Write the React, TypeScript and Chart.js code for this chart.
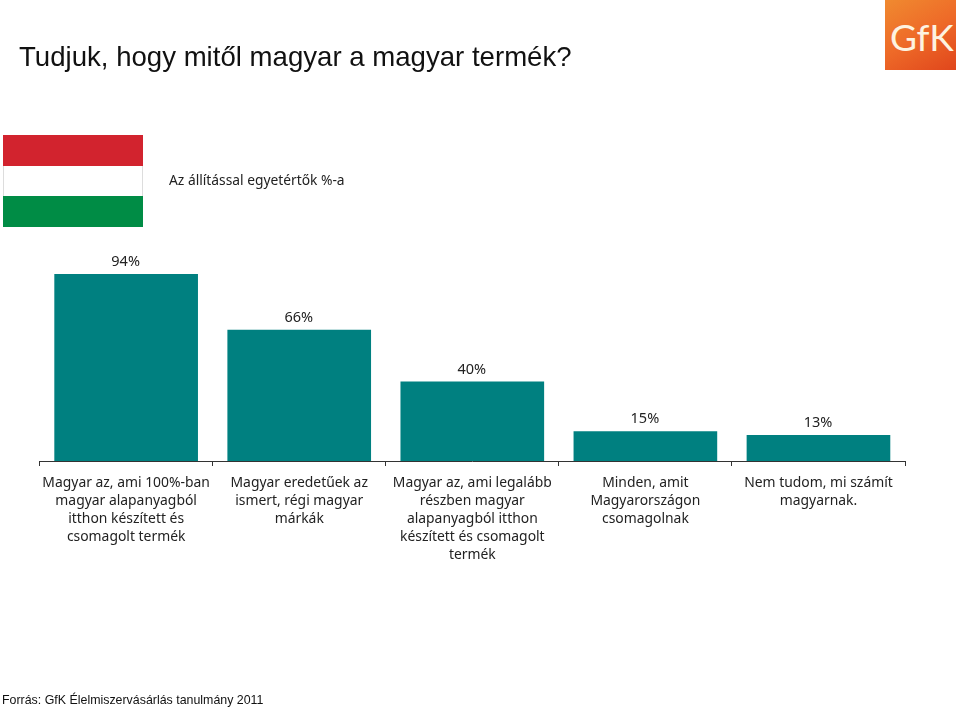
import React, { useEffect, useRef } from "react";
import { Chart, registerables } from "chart.js";

Chart.register(...registerables);

const categories: string[][] = [
  ["Magyar az, ami 100%-ban", "magyar alapanyagból", "itthon készített és", "csomagolt termék"],
  ["Magyar eredetűek az", "ismert, régi magyar", "márkák"],
  ["Magyar az, ami legalább", "részben magyar", "alapanyagból itthon", "készített és csomagolt", "termék"],
  ["Minden, amit", "Magyarországon", "csomagolnak"],
  ["Nem tudom, mi számít", "magyarnak."],
];
const values: number[] = [94, 66, 40, 15, 13];
const titleText = "Tudjuk, hogy mitől magyar a magyar termék?";
const subtitleText = "Az állítással egyetértők %-a";
const sourceText = "Forrás: GfK Élelmiszervásárlás tanulmány 2011";

const FONT = '"Noto Sans", sans-serif';

const valueLabels = {
  id: "valueLabels",
  afterDatasetsDraw(chart: any) {
    const { ctx } = chart;
    const meta = chart.getDatasetMeta(0);
    ctx.save();
    ctx.font = `14.5px ${FONT}`;
    ctx.fillStyle = "#222";
    ctx.textAlign = "center";
    ctx.textBaseline = "middle";
    meta.data.forEach((bar: any, i: number) => {
      ctx.fillText(`${values[i]}%`, bar.x - 0.5, bar.y - 12);
    });
    ctx.restore();
  },
};

export default function App() {
  const ref = useRef<HTMLCanvasElement>(null);
  useEffect(() => {
    const chart = new Chart(ref.current!, {
      type: "bar",
      data: {
        labels: categories,
        datasets: [
          {
            data: values,
            backgroundColor: "#008080",
            barPercentage: 0.83,
            categoryPercentage: 1,
          },
        ],
      },
      options: {
        responsive: false,
        animation: false,
        layout: { padding: { left: 39.6, right: 55, top: 0, bottom: 0 } },
        plugins: { legend: { display: false }, tooltip: { enabled: false } },
        scales: {
          y: { display: false, min: 0, max: 231.6 },
          x: {
            border: { color: "#333", width: 1 },
            grid: { drawOnChartArea: false, color: "#333", tickLength: 5 },
            ticks: {
              autoSkip: false,
              maxRotation: 0,
              minRotation: 0,
              padding: 8,
              color: "#222",
              font: { family: FONT, size: 13.9, lineHeight: 1.295 },
            },
            afterFit(scale: any) {
              scale.height = 248;
            },
          },
        },
      },
      plugins: [valueLabels],
    } as any);
    return () => chart.destroy();
  }, []);

  return (
    <div style={{ position: "absolute", left: 0, top: 0, width: 960, height: 709, overflow: "hidden", background: "#fff" }}>
      <canvas ref={ref} width={960} height={709} style={{ position: "absolute", left: 0, top: 0 }} />
      <div style={{ position: "absolute", left: 19, top: 41, font: '27.6px "Liberation Sans", sans-serif', color: "#111", whiteSpace: "nowrap" }}>
        {titleText}
      </div>
      <div style={{ position: "absolute", left: 885, top: 0, width: 71, height: 70, background: "linear-gradient(150deg,#f08a30 0%,#ee6a28 50%,#e0461c 100%)", overflow: "hidden" }}>
        <div style={{ position: "absolute", left: 5, top: 14, font: '400 37px Lato, sans-serif', color: "#fdf3e0", whiteSpace: "nowrap" }}>GfK</div>
      </div>
      <div style={{ position: "absolute", left: 3, top: 135, width: 140, height: 92 }}>
        <div style={{ height: 30.6, background: "#d2232e" }} />
        <div style={{ height: 30.6, background: "#fff", boxSizing: "border-box", borderLeft: "1px solid #ddd", borderRight: "1px solid #ddd" }} />
        <div style={{ height: 30.8, background: "#008c45" }} />
      </div>
      <div style={{ position: "absolute", left: 169, top: 170, font: `13.8px ${FONT}`, color: "#222", whiteSpace: "nowrap" }}>{subtitleText}</div>
      <div style={{ position: "absolute", left: 2, top: 693, font: '12.4px "Liberation Sans", sans-serif', color: "#111", whiteSpace: "nowrap" }}>{sourceText}</div>
    </div>
  );
}
